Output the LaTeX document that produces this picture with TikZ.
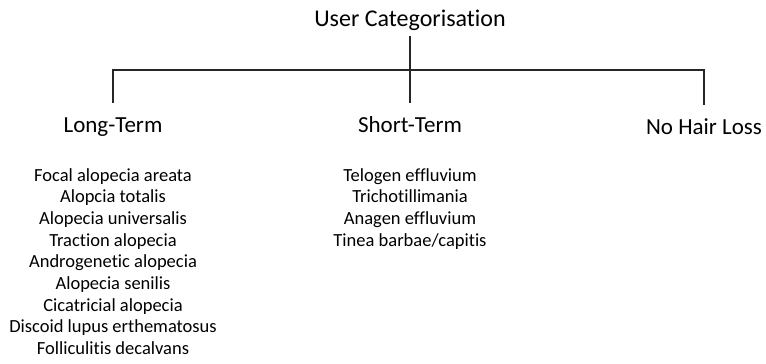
\documentclass[tikz,border=0pt]{standalone}
\usepackage{fontspec}
\setmainfont{Carlito}[Ligatures=NoCommon]
\begin{document}
\begin{tikzpicture}[x=1pt,y=-1pt,
    heading/.style={inner sep=0pt,font=\fontsize{24}{28}\selectfont},
    category/.style={inner sep=0pt,anchor=base,font=\fontsize{23}{27}\selectfont},
    condlist/.style={inner sep=0pt,anchor=north,align=center,font=\fontsize{18.5}{21.7}\selectfont},
    branch/.style={line width=1.3pt,black!85}]

\def\LISTTOP{168}
	\useasboundingbox (0,0) rectangle (766,364);

	\node[heading,anchor=base] (root) at (410,26) {User Categorisation};
	\node[category] (longterm) at (113,132) {Long-Term};
	\node[category] (shortterm) at (410,132) {Short-Term};
	\node[category] (nohair) at (704,134) {No Hair Loss};
	\coordinate (bar) at (410,70);

	\draw[branch,shorten <=6pt,shorten >=13pt] (root) -- (shortterm);
	\draw[branch,shorten <=14pt,shorten >=13pt] (longterm) |- (bar) -| (nohair);

	\node[condlist] (longlist) at (113,\LISTTOP) {Focal alopecia areata\\Alopcia totalis\\Alopecia universalis\\Traction alopecia\\Androgenetic alopecia\\Alopecia senilis\\Cicatricial alopecia\\Discoid lupus erthematosus\\Folliculitis decalvans};
	\node[condlist] (shortlist) at (410,\LISTTOP) {Telogen effluvium\\Trichotillimania\\Anagen effluvium\\Tinea barbae/capitis};

\end{tikzpicture}
\end{document}
